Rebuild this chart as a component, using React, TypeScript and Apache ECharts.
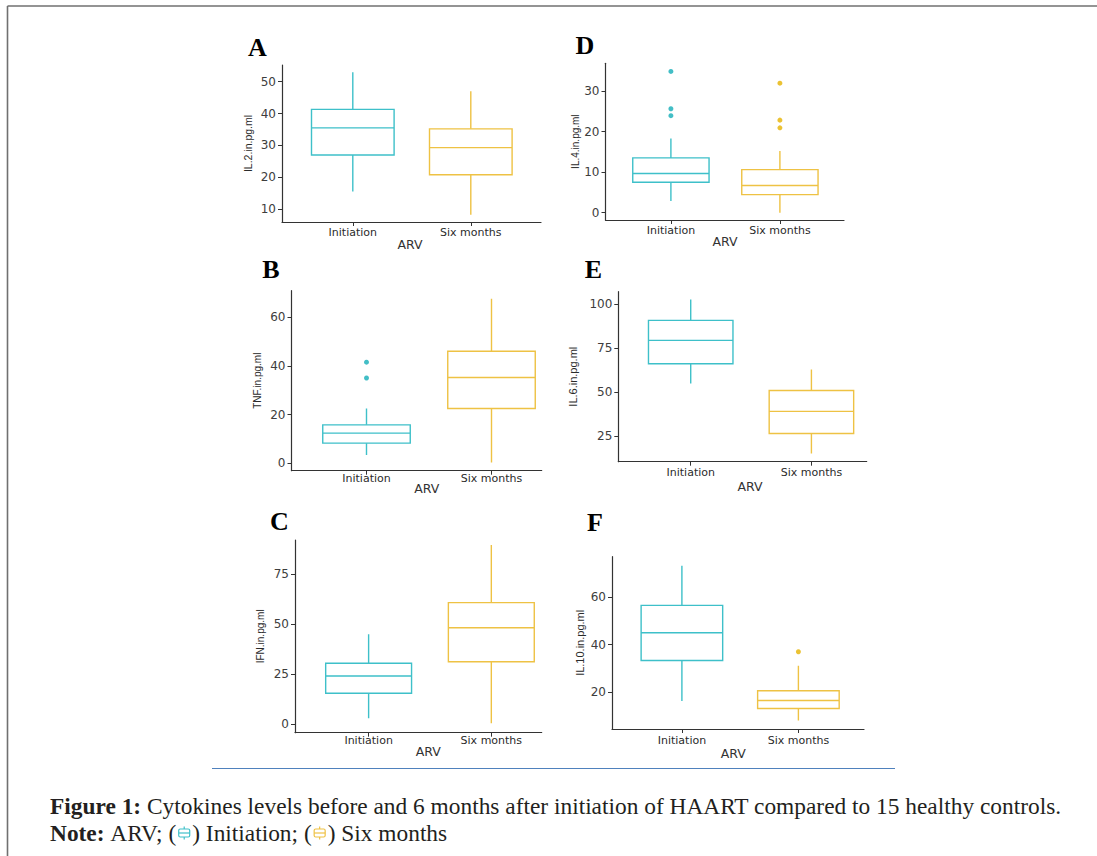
import React, { useEffect, useRef } from "react";
import * as echarts from "echarts";

// ---------- data ----------
const groups = ["Initiation", "Six months"];
// [min, Q1, median, Q3, max]
const il2Initiation = [15.5, 27.0, 35.5, 41.3, 53.0];
const il2SixMonths = [8.2, 20.8, 29.3, 35.2, 47.0];
const tnfInitiation = [3.4, 8.3, 12.4, 15.8, 22.5];
const tnfSixMonths = [0.4, 22.5, 35.2, 46.0, 67.5];
const ifnInitiation = [2.9, 15.4, 24.0, 30.4, 44.9];
const ifnSixMonths = [0.35, 31.2, 48.2, 60.8, 89.7];
const il4Initiation = [2.9, 7.5, 9.65, 13.5, 18.3];
const il4SixMonths = [0.0, 4.45, 6.7, 10.6, 15.2];
const il6Initiation = [55.0, 66.2, 79.5, 90.9, 102.8];
const il6SixMonths = [15.1, 26.5, 39.1, 51.0, 63.0];
const il10Initiation = [16.3, 33.3, 45.0, 56.5, 73.2];
const il10SixMonths = [8.1, 13.1, 16.5, 20.6, 31.1];

// outliers
const tnfOutInitiation = [41.5, 35.0];
const il4OutInitiation = [34.8, 25.6, 23.9];
const il4OutSixMonths = [31.9, 22.8, 20.9];
const il10OutSixMonths = [37.0];

// tick labels
const il2Ticks = [10, 20, 30, 40, 50];
const tnfTicks = [0, 20, 40, 60];
const ifnTicks = [0, 25, 50, 75];
const il4Ticks = [0, 10, 20, 30];
const il6Ticks = [25, 50, 75, 100];
const il10Ticks = [20, 40, 60];

const captionBold = "Figure 1:";
const captionRest =
  "Cytokines levels before and 6 months after initiation of HAART compared to 15 healthy controls.";

// ---------- layout / style ----------
const TEAL = "#3EC0C9";
const TEAL_PT = "#14AEB8";
const GOLD = "#EEC244";
const GOLD_PT = "#E6B300";
const AXIS = "#333333";
const SANS = '"DejaVu Sans", "Liberation Sans", Arial, sans-serif';
const ARIAL = '"Liberation Sans", Arial, sans-serif';
const SERIF = '"Liberation Serif", "DejaVu Serif", "Times New Roman", serif';

type Panel = {
  letter: string;
  yName: string;
  init: number[];
  six: number[];
  outInit: number[];
  outSix: number[];
  ticks: number[];
  yMin: number;
  yMax: number;
  left: number;
  top: number;
  right: number;
  bottom: number;
  unit: number;
  nameGap: number;
  nameSize: number;
  xMargin: number;
  letterPos: [number, number];
  arvPos: [number, number];
};

const panels: Panel[] = [
  { letter: "A", yName: "IL.2.in.pg.ml", init: il2Initiation, six: il2SixMonths, outInit: [], outSix: [], ticks: il2Ticks,
    yMin: 5.96, yMax: 55.24, left: 282, top: 65, right: 541, bottom: 222, unit: 118, nameGap: 28.5, nameSize: 10.5, xMargin: 4.5,
    letterPos: [257.5, 47.5], arvPos: [410, 244] },
  { letter: "D", yName: "IL.4.in.pg.ml", init: il4Initiation, six: il4SixMonths, outInit: il4OutInitiation, outSix: il4OutSixMonths, ticks: il4Ticks,
    yMin: -1.8, yMax: 36.8, left: 605.5, top: 63.3, right: 844, bottom: 220, unit: 109, nameGap: 25.5, nameSize: 10, xMargin: 4.5,
    letterPos: [585, 45], arvPos: [725, 241.7] },
  { letter: "B", yName: "TNF.in.pg.ml", init: tnfInitiation, six: tnfSixMonths, outInit: tnfOutInitiation, outSix: [], ticks: tnfTicks,
    yMin: -3.0, yMax: 70.8, left: 291.5, top: 290.7, right: 541.7, bottom: 470.7, unit: 125, nameGap: 29.5, nameSize: 10, xMargin: 2,
    letterPos: [271, 269.5], arvPos: [426.7, 488.3] },
  { letter: "E", yName: "IL.6.in.pg.ml", init: il6Initiation, six: il6SixMonths, outInit: [], outSix: [], ticks: il6Ticks,
    yMin: 10.5, yMax: 107.2, left: 618.3, top: 291.7, right: 866.7, bottom: 461.7, unit: 120.7, nameGap: 39.5, nameSize: 11, xMargin: 5,
    letterPos: [593.5, 269.5], arvPos: [750, 486.7] },
  { letter: "C", yName: "IFN.in.pg.ml", init: ifnInitiation, six: ifnSixMonths, outInit: [], outSix: [], ticks: ifnTicks,
    yMin: -4.4, yMax: 92.2, left: 295, top: 540, right: 541.7, bottom: 732.7, unit: 122.7, nameGap: 29.5, nameSize: 10, xMargin: 2.5,
    letterPos: [279.5, 521.5], arvPos: [428.3, 751.7] },
  { letter: "F", yName: "IL.10.in.pg.ml", init: il10Initiation, six: il10SixMonths, outInit: [], outSix: il10OutSixMonths, ticks: il10Ticks,
    yMin: 4.5, yMax: 77, left: 612, top: 556.7, right: 864, bottom: 729, unit: 116.5, nameGap: 26.5, nameSize: 11, xMargin: 5.5,
    letterPos: [595, 522.5], arvPos: [733.3, 753.3] },
];

function legendIcon(cx: number, cy: number, color: string) {
  return {
    type: "group",
    x: cx,
    y: cy,
    silent: true,
    children: [
      { type: "rect", shape: { x: -5.5, y: -4, width: 11, height: 8, r: 1.5 }, style: { fill: "#fff", stroke: color, lineWidth: 1.2 } },
      { type: "line", shape: { x1: -5.5, y1: 0, x2: 5.5, y2: 0 }, style: { stroke: color, lineWidth: 1.2 } },
      { type: "line", shape: { x1: 0, y1: -6.5, x2: 0, y2: -4 }, style: { stroke: color, lineWidth: 1.2 } },
      { type: "line", shape: { x1: 0, y1: 4, x2: 0, y2: 6.5 }, style: { stroke: color, lineWidth: 1.2 } },
    ],
  };
}

export default function App() {
  const ref = useRef<HTMLDivElement>(null);

  useEffect(() => {
    const el = ref.current;
    if (!el) return;
    const chart = echarts.init(el, null, { renderer: "svg" });

    // text measurement for caption layout
    const ctx = document.createElement("canvas").getContext("2d") as CanvasRenderingContext2D;
    const measure = (t: string, size: number, bold: boolean) => {
      ctx.font = `${bold ? "bold " : ""}${size}px ${SERIF}`;
      return ctx.measureText(t).width;
    };
    const w20 = measure(captionBold, 20, true) + measure(" ", 20, false) + measure(captionRest, 20, false);
    const fs = Math.max(17, Math.min(25, (20 * 1012) / w20));
    const capColor = "#231f20";

    const graphics: any[] = [];
    // page frame
    graphics.push({ type: "line", silent: true, shape: { x1: 7.5, y1: 6, x2: 1097, y2: 6 }, style: { stroke: "#707070", lineWidth: 1.6 } });
    graphics.push({ type: "line", silent: true, shape: { x1: 7.5, y1: 6, x2: 7.5, y2: 856 }, style: { stroke: "#707070", lineWidth: 1.6 } });
    // blue rule
    graphics.push({ type: "line", silent: true, shape: { x1: 212, y1: 768.5, x2: 895, y2: 768.5 }, style: { stroke: "#4F81BD", lineWidth: 1 } });

    // panel letters and x-axis titles
    panels.forEach((p) => {
      graphics.push({
        type: "text", silent: true, x: p.letterPos[0], y: p.letterPos[1],
        style: { text: p.letter, font: `bold 26px ${SERIF}`, fill: "#000", align: "center", verticalAlign: "middle" },
      });
      graphics.push({
        type: "text", silent: true, x: p.arvPos[0], y: p.arvPos[1],
        style: { text: "ARV", font: `12.5px ${SANS}`, fill: "#333", align: "center", verticalAlign: "middle" },
      });
    });

    // caption line 1
    const y1 = 806;
    let x = 50;
    graphics.push({ type: "text", silent: true, x, y: y1, style: { text: captionBold, font: `bold ${fs}px ${SERIF}`, fill: capColor, align: "left", verticalAlign: "middle" } });
    x += measure(captionBold, fs, true) + measure(" ", fs, false);
    graphics.push({ type: "text", silent: true, x, y: y1, style: { text: captionRest, font: `${fs}px ${SERIF}`, fill: capColor, align: "left", verticalAlign: "middle" } });

    // caption line 2
    const y2 = 833;
    const iconW = 16;
    x = 50;
    graphics.push({ type: "text", silent: true, x, y: y2, style: { text: "Note:", font: `bold ${fs}px ${SERIF}`, fill: capColor, align: "left", verticalAlign: "middle" } });
    x += measure("Note:", fs, true) + measure(" ", fs, false);
    graphics.push({ type: "text", silent: true, x, y: y2, style: { text: "ARV; (", font: `${fs}px ${SERIF}`, fill: capColor, align: "left", verticalAlign: "middle" } });
    x += measure("ARV; (", fs, false);
    graphics.push(legendIcon(x + iconW / 2, y2, TEAL));
    x += iconW;
    graphics.push({ type: "text", silent: true, x, y: y2, style: { text: ") Initiation; (", font: `${fs}px ${SERIF}`, fill: capColor, align: "left", verticalAlign: "middle" } });
    x += measure(") Initiation; (", fs, false);
    graphics.push(legendIcon(x + iconW / 2, y2, GOLD));
    x += iconW;
    graphics.push({ type: "text", silent: true, x, y: y2, style: { text: ") Six months", font: `${fs}px ${SERIF}`, fill: capColor, align: "left", verticalAlign: "middle" } });

    const n = panels.length;
    const grid = panels.map((p) => ({
      left: p.left, top: p.top, width: p.right - p.left, height: p.bottom - p.top, containLabel: false,
    }));
    const xMaxOf = (p: Panel) => 0.4 + (p.right - p.left) / p.unit;

    const xAxis: any[] = panels.map((p, i) => ({
      type: "value", gridIndex: i, min: 0.4, max: xMaxOf(p),
      axisLine: { show: true, onZero: false, lineStyle: { color: AXIS, width: 1.2 } },
      axisTick: { show: true, customValues: [1, 2], length: 4, lineStyle: { color: AXIS, width: 1 } },
      axisLabel: {
        show: true, customValues: [1, 2], margin: p.xMargin,
        formatter: (v: number) => groups[Math.round(v) - 1] ?? "",
        fontFamily: SANS, fontSize: 11, color: "#2b2b2b",
      },
      splitLine: { show: false },
    }));
    // hidden twin axes used by the whisker series
    panels.forEach((p, i) => {
      xAxis.push({ type: "value", gridIndex: i, min: 0.4, max: xMaxOf(p), show: false, splitLine: { show: false } });
    });

    const yAxis = panels.map((p, i) => ({
      type: "value", gridIndex: i, min: p.yMin, max: p.yMax,
      name: p.yName, nameLocation: "middle", nameRotate: 90, nameGap: p.nameGap,
      nameTextStyle: { fontFamily: ARIAL, fontSize: p.nameSize, color: "#2b2b2b" },
      axisLine: { show: true, onZero: false, lineStyle: { color: AXIS, width: 1.2 } },
      axisTick: { show: true, customValues: p.ticks, length: 4, lineStyle: { color: AXIS, width: 1 } },
      axisLabel: { show: true, customValues: p.ticks, margin: 6, fontFamily: SANS, fontSize: 12, color: "#3d3d3d" },
      splitLine: { show: false },
    }));

    const series: any[] = [];
    panels.forEach((p, i) => {
      const bw = 0.7 * p.unit;
      series.push({
        type: "boxplot", name: p.yName + " whiskers", xAxisIndex: n + i, yAxisIndex: i, layout: "horizontal",
        boxWidth: [0, 0], silent: true, z: 2, emphasis: { disabled: true },
        itemStyle: { color: "#fff", borderWidth: 1.4 },
        data: [
          { value: [1, ...p.init], itemStyle: { borderColor: TEAL } },
          { value: [2, ...p.six], itemStyle: { borderColor: GOLD } },
        ],
      });
      series.push({
        type: "boxplot", name: p.yName, xAxisIndex: i, yAxisIndex: i, layout: "horizontal",
        boxWidth: [bw, bw], silent: true, z: 3, emphasis: { disabled: true },
        itemStyle: { color: "#fff", borderWidth: 1.4 },
        data: [
          { value: [1, p.init[1], p.init[1], p.init[2], p.init[3], p.init[3]], itemStyle: { borderColor: TEAL } },
          { value: [2, p.six[1], p.six[1], p.six[2], p.six[3], p.six[3]], itemStyle: { borderColor: GOLD } },
        ],
      });
      if (p.outInit.length) {
        series.push({
          type: "scatter", xAxisIndex: i, yAxisIndex: i, symbolSize: 5, silent: true, z: 4,
          itemStyle: { color: TEAL_PT }, data: p.outInit.map((v) => [1, v]),
        });
      }
      if (p.outSix.length) {
        series.push({
          type: "scatter", xAxisIndex: i, yAxisIndex: i, symbolSize: 5, silent: true, z: 4,
          itemStyle: { color: GOLD_PT }, data: p.outSix.map((v) => [2, v]),
        });
      }
    });

    chart.setOption({
      animation: false,
      backgroundColor: "#ffffff",
      grid,
      xAxis,
      yAxis,
      series,
      graphic: graphics,
    });

    return () => chart.dispose();
  }, []);

  return (
    <div
      ref={ref}
      style={{ position: "fixed", left: 0, top: 0, width: 1097, height: 856, background: "#fff" }}
    />
  );
}
